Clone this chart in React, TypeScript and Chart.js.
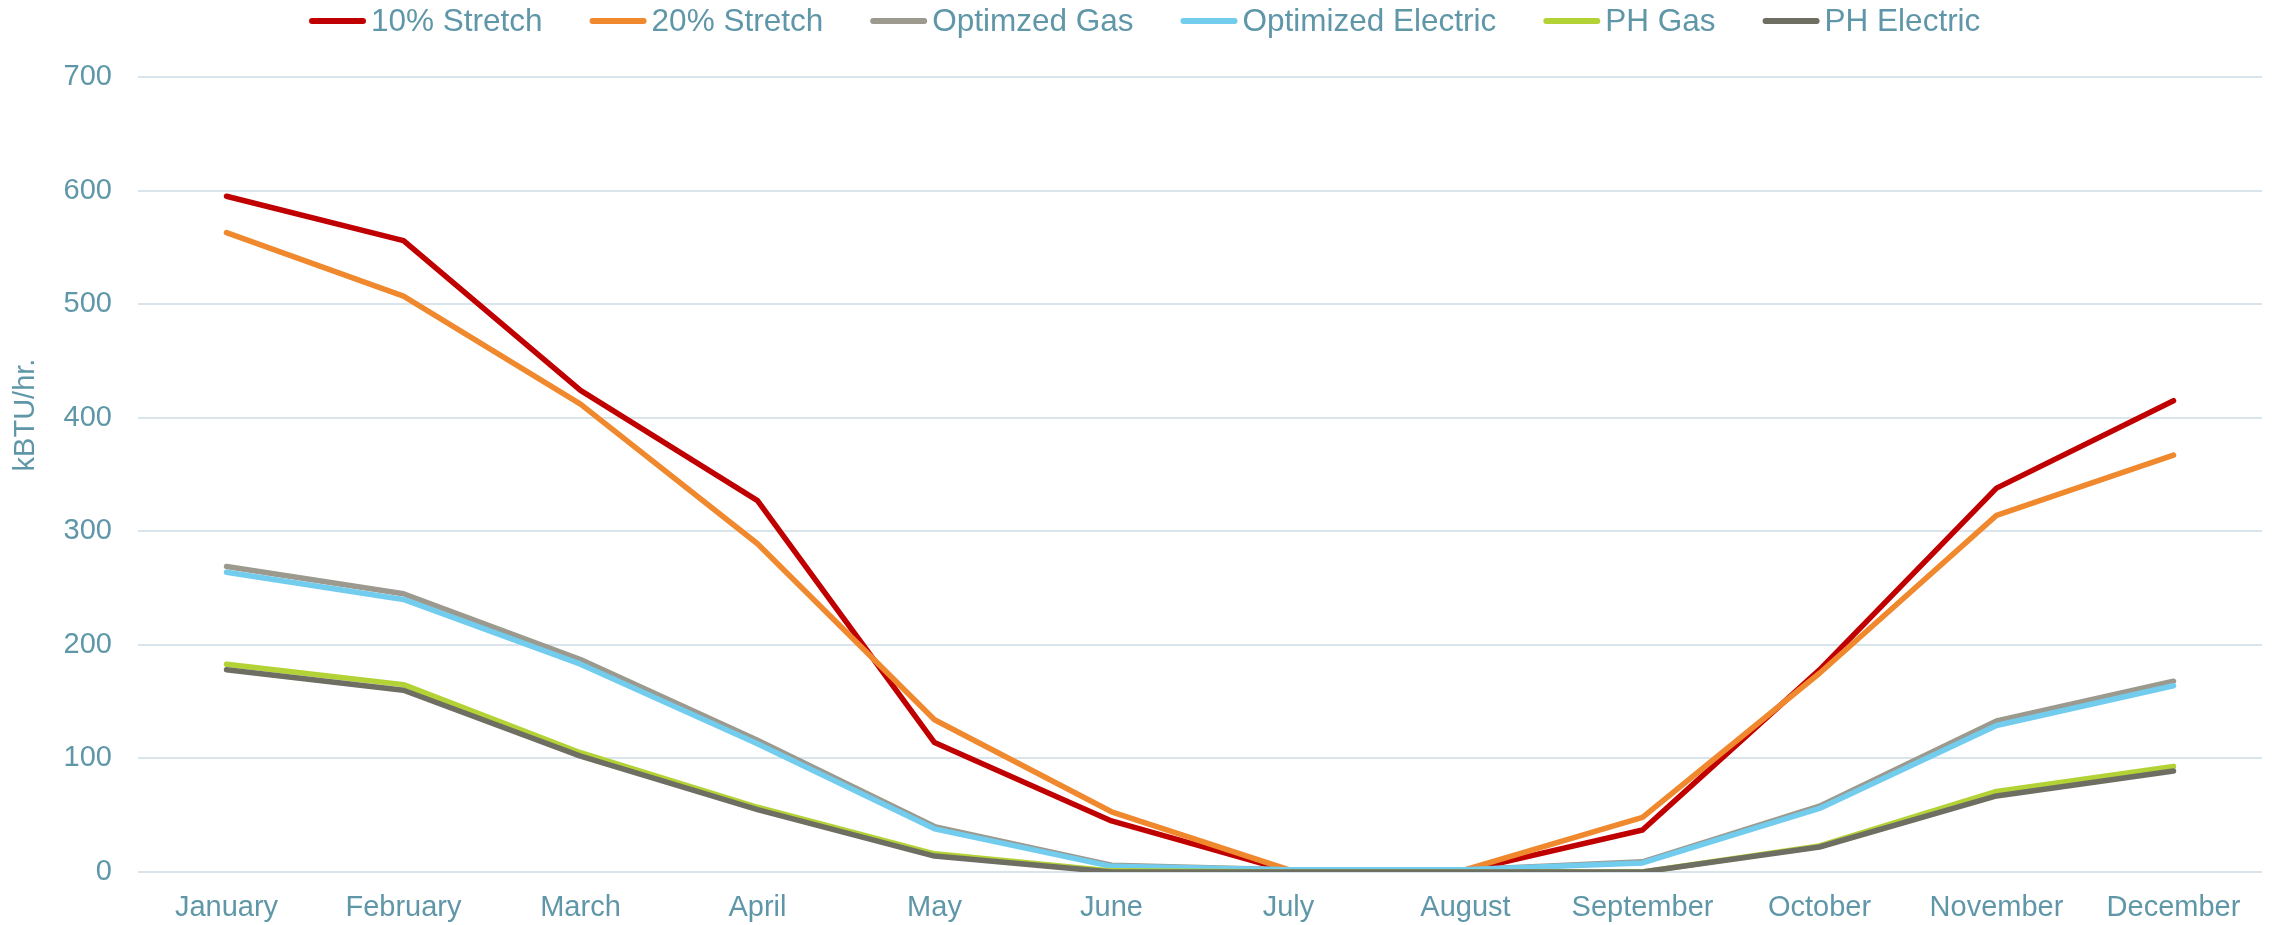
import React, { useEffect, useRef } from "react";
import { Chart, registerables } from "chart.js";

Chart.register(...registerables);

const months = [
  "January", "February", "March", "April", "May", "June",
  "July", "August", "September", "October", "November", "December",
];

const stretch10 = [595, 556, 424, 327, 114, 45, 1, 1, 37, 178, 338, 415];
const stretch20 = [563, 507, 412, 289, 134, 53, 2, 2, 48, 175, 314, 367];
const optimizedGas = [269, 245, 187, 116, 40, 6, 2, 2, 9, 58, 133, 168];
const optimizedElectric = [264, 240, 183, 113, 38, 5, 2, 2, 8, 56, 129, 164];
const phGas = [183, 165, 105, 57, 16, 1, 0, 0, 0, 23, 71, 93];
const phElectric = [178, 160, 102, 55, 14, 0, 0, 0, 0, 22, 67, 89];

const seriesNames = ["10% Stretch", "20% Stretch", "Optimzed Gas", "Optimized Electric", "PH Gas", "PH Electric"];
const seriesData = [stretch10, stretch20, optimizedGas, optimizedElectric, phGas, phElectric];
const seriesColors = ["#C00000", "#F0882E", "#9C9A8E", "#72CCEE", "#B3D235", "#6E6E62"];

const yTitle = "kBTU/hr.";
const yMin = 0;
const yMax = 700;
const yStep = 100;

const TEXT = "#5F97A8";
const GRID = "#D9E5EA";
const FONT = '"Liberation Sans", Arial, sans-serif';

const overlayPlugin = {
  id: "overlay",
  afterDraw(chart: any) {
    const ctx = chart.ctx as CanvasRenderingContext2D;
    // y-axis title
    ctx.save();
    ctx.translate(26, 415);
    ctx.rotate(-Math.PI / 2);
    ctx.font = `29px ${FONT}`;
    ctx.fillStyle = TEXT;
    ctx.textAlign = "center";
    ctx.textBaseline = "middle";
    ctx.fillText(yTitle, 0, 0);
    ctx.restore();

    // legend
    ctx.save();
    ctx.font = `31.5px ${FONT}`;
    const marker = 57;
    const gap = 5;
    const itemGap = 47;
    const ds = chart.data.datasets;
    const widths = ds.map((d: any) => marker + gap + ctx.measureText(d.label).width);
    let x = 309;
    const y = 21;
    ds.forEach((d: any, i: number) => {
      ctx.strokeStyle = d.borderColor;
      ctx.lineWidth = 6;
      ctx.lineCap = "round";
      ctx.beginPath();
      ctx.moveTo(x + 3, y);
      ctx.lineTo(x + marker - 3, y);
      ctx.stroke();
      ctx.fillStyle = TEXT;
      ctx.textAlign = "left";
      ctx.textBaseline = "middle";
      ctx.fillText(d.label, x + marker + gap, y + 1);
      x += widths[i] + itemGap;
    });
    ctx.restore();
  },
};

export default function App() {
  const canvasRef = useRef<HTMLCanvasElement | null>(null);

  useEffect(() => {
    document.body.style.margin = "0";
    const canvas = canvasRef.current;
    if (!canvas) return;
    const n = seriesNames.length;
    const chart = new Chart(canvas, {
      type: "line",
      data: {
        labels: months,
        datasets: seriesNames.map((name, i) => ({
          label: name,
          data: seriesData[i],
          borderColor: seriesColors[i],
          backgroundColor: seriesColors[i],
          borderWidth: 5.5,
          borderCapStyle: "round" as const,
          borderJoinStyle: "round" as const,
          pointRadius: 0,
          pointHoverRadius: 0,
          tension: 0,
          fill: false,
          order: n - 1 - i,
        })),
      },
      options: {
        responsive: false,
        animation: false,
        devicePixelRatio: 1,
        layout: { padding: { top: 77, left: 0, right: 12, bottom: 3 } },
        plugins: {
          legend: { display: false },
          tooltip: { enabled: false },
          title: { display: false },
        },
        scales: {
          x: {
            offset: true,
            grid: { display: false, drawTicks: false },
            border: { display: false },
            ticks: {
              color: TEXT,
              font: { family: FONT, size: 29 },
              padding: 19,
              maxRotation: 0,
              autoSkip: false,
            },
            afterFit(scale: any) {
              scale.height = 50;
            },
          },
          y: {
            min: yMin,
            max: yMax,
            grid: { color: GRID, lineWidth: 2, drawTicks: false },
            border: { display: false },
            ticks: {
              stepSize: yStep,
              color: TEXT,
              font: { family: FONT, size: 29 },
              padding: 26,
            },
            afterFit(scale: any) {
              scale.width = 138;
            },
          },
        },
      },
      plugins: [overlayPlugin],
    });
    return () => chart.destroy();
  }, []);

  return (
    <div style={{ width: 2274, height: 925, background: "#fff" }}>
      <canvas ref={canvasRef} width={2274} height={925} style={{ display: "block" }} />
    </div>
  );
}
